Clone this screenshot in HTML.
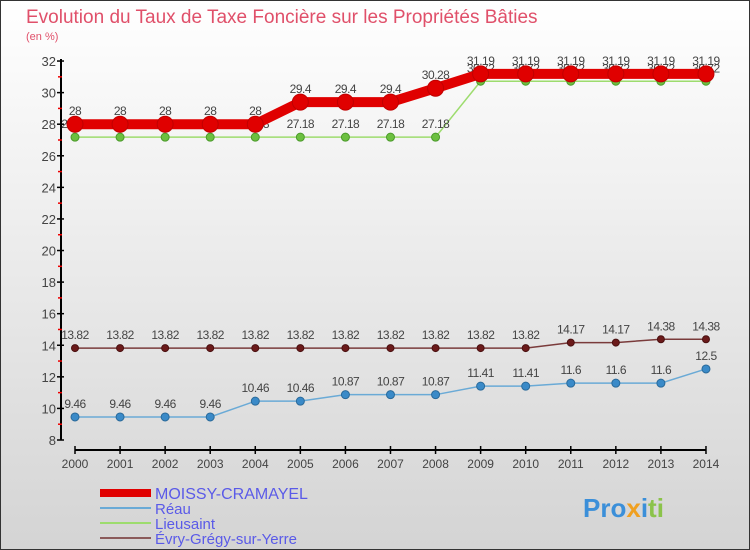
<!DOCTYPE html>
<html><head><meta charset="utf-8"><style>
body{margin:0;width:750px;height:550px;overflow:hidden;font-family:"Liberation Sans",sans-serif}
svg{display:block}
</style></head><body>
<svg id="c" width="750" height="550" xmlns="http://www.w3.org/2000/svg">
<defs><linearGradient id="bg" x1="0" y1="0" x2="0" y2="1"><stop offset="0" stop-color="#ffffff"/><stop offset="1" stop-color="#d4d4d4"/></linearGradient></defs>
<rect x="0.5" y="0.5" width="749" height="549" fill="url(#bg)" stroke="#333"/>
<text x="26" y="23" font-size="19" fill="#e0506a">Evolution du Taux de Taxe Foncière sur les Propriétés Bâties</text>
<text x="26" y="40" font-size="11" fill="#e0506a">(en %)</text>
<g id="axes"></g><g id="series"></g><g id="legend"></g>
<text x="583" y="517" font-size="26" font-weight="bold" fill="#3b8fd9">Pro<tspan fill="#f0a020">x</tspan><tspan fill="#3b8fd9">i</tspan><tspan fill="#8bc34a">ti</tspan></text>
</svg>
<script>
const years=[2000,2001,2002,2003,2004,2005,2006,2007,2008,2009,2010,2011,2012,2013,2014];
const moissy=[28,28,28,28,28,29.4,29.4,29.4,30.28,31.19,31.19,31.19,31.19,31.19,31.19];
const reau=[9.46,9.46,9.46,9.46,10.46,10.46,10.87,10.87,10.87,11.41,11.41,11.6,11.6,11.6,12.5];
const lieusaint=[27.18,27.18,27.18,27.18,27.18,27.18,27.18,27.18,27.18,30.72,30.72,30.72,30.72,30.72,30.72];
const evry=[13.82,13.82,13.82,13.82,13.82,13.82,13.82,13.82,13.82,13.82,13.82,14.17,14.17,14.38,14.38];
const yTicks=[8,10,12,14,16,18,20,22,24,26,28,30,32];
const NS="http://www.w3.org/2000/svg";
const X=i=>75+i*45.07, Y=v=>440-(v-8)*15.79;
function mk(p,t,a){const e=document.createElementNS(NS,t);for(const k in a)e.setAttribute(k,a[k]);p.appendChild(e);return e;}
const ax=document.getElementById('axes');
let e=mk(ax,'line',{x1:61,y1:Y(32)-2,x2:61,y2:Y(8),stroke:'#000','stroke-width':2});

e=mk(ax,'line',{x1:X(0),y1:450,x2:X(14),y2:450,stroke:'#000','stroke-width':2});

yTicks.forEach(v=>{mk(ax,'line',{x1:57,x2:64,y1:Y(v),y2:Y(v),stroke:'#000','stroke-width':1.5});
 if(v<32)mk(ax,'line',{x1:58,x2:62,y1:Y(v+1),y2:Y(v+1),stroke:'#e00','stroke-width':1.5});
 const t=mk(ax,'text',{x:56,y:Y(v)+5,'text-anchor':'end','font-size':13,fill:'#444'});t.textContent=v;
 });
years.forEach((y,i)=>{mk(ax,'line',{x1:X(i),x2:X(i),y1:446,y2:454,stroke:'#000','stroke-width':1.5});
 const t=mk(ax,'text',{x:X(i),y:468,'text-anchor':'middle','font-size':12,fill:'#444'});t.textContent=y;
 });
const sg=document.getElementById('series');
function series(name,d,col,lw,r,dot,dstroke){
 const g=mk(sg,'g',{});
 const l=mk(g,'polyline',{points:d.map((v,i)=>X(i)+','+Y(v)).join(' '),fill:'none',stroke:col,'stroke-width':lw});
 
 d.forEach((v,i)=>{const c=mk(g,'circle',{cx:X(i),cy:Y(v),r:r,fill:dot,stroke:dstroke,'stroke-width':1});
  
  const t=mk(g,'text',{x:X(i),y:Y(v)-9,'text-anchor':'middle','font-size':12,fill:'#444','letter-spacing':'-0.5'});t.textContent=v;
  });
}
series('evry',evry,'#7a3b3b',1.5,3.5,'#6b1a1a','#4a1010');
series('reau',reau,'#6aaad6',1.5,4,'#3a8ac8','#2a6a9a');
series('lieusaint',lieusaint,'#9ddc6e',1.5,4,'#6cc040','#4a9a2a');
series('moissy',moissy,'#e00000',10,8,'#e00000','#c00000');
const lg=document.getElementById('legend');
[['moissy-cramayel','MOISSY-CRAMAYEL','#e00000',8,16],['reau','Réau','#6aaad6',2,15],['lieusaint','Lieusaint','#9ddc6e',2,15],['evry','Évry-Grégy-sur-Yerre','#8a5a5a',2,15]].forEach((d,i)=>{
 const y=493+i*15;const g=mk(lg,'g',{});
 mk(g,'line',{x1:100,x2:151,y1:y,y2:y,stroke:d[2],'stroke-width':d[3]});
 const t=mk(g,'text',{x:155,y:y+6,'font-size':d[4],fill:'#5a5ae8'});t.textContent=d[1];});
</script>
</body></html>
